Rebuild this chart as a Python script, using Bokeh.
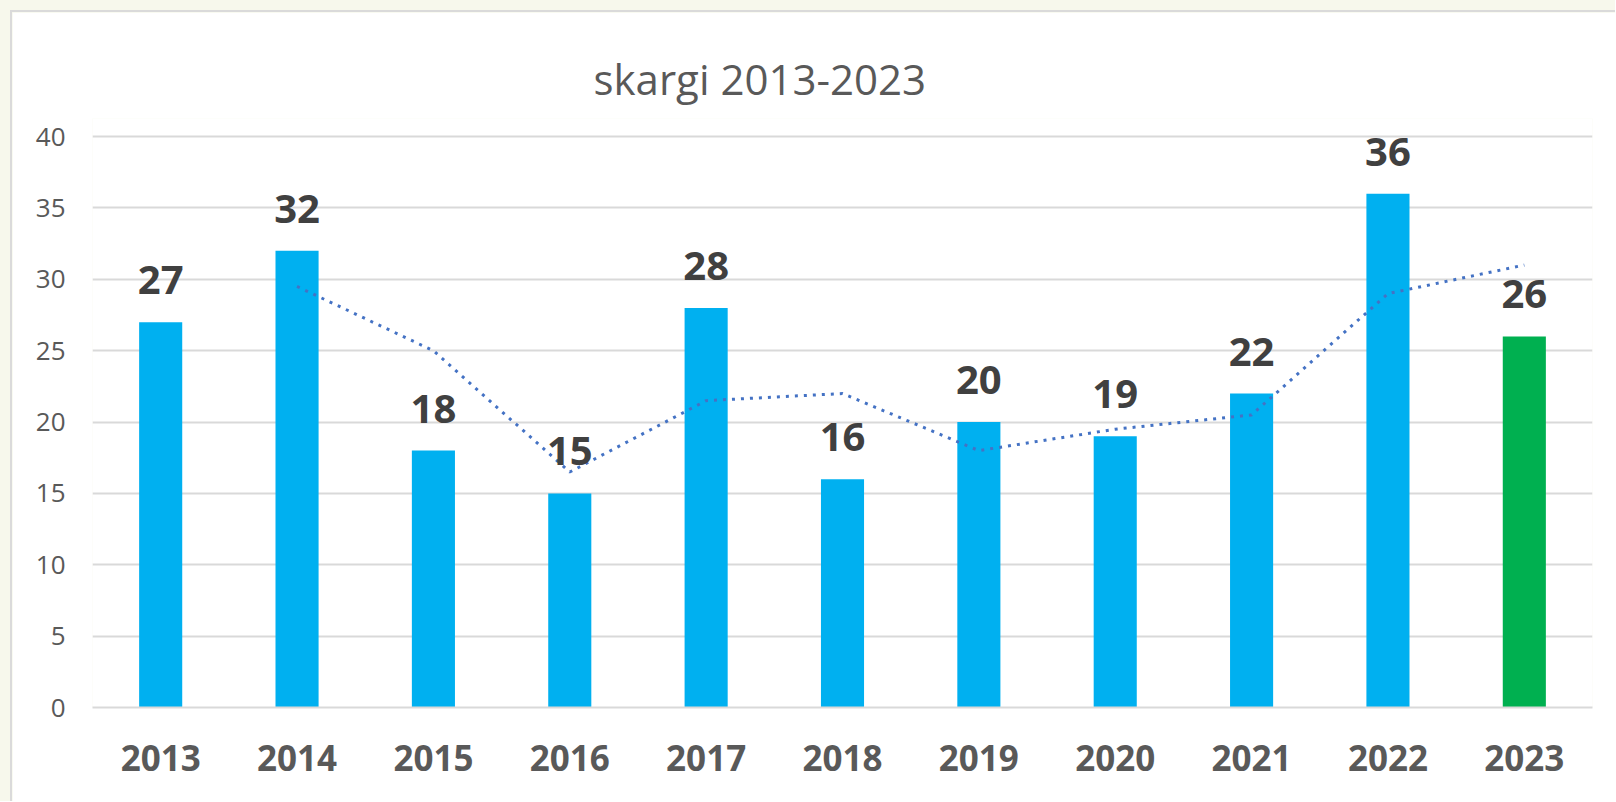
from bokeh.plotting import figure
from bokeh.layouts import column
from bokeh.models import FactorRange, Range1d, FixedTicker, ColumnDataSource
from bokeh.core.properties import value
from bokeh.embed import file_html
from bokeh.resources import INLINE

title_text = "skargi 2013-2023"
years = ["2013", "2014", "2015", "2016", "2017", "2018", "2019", "2020", "2021", "2022", "2023"]
complaints = [27, 32, 18, 15, 28, 16, 20, 19, 22, 36, 26]
highlight_year = "2023"
# 2-period moving average trend
trend_years = ["2014", "2015", "2016", "2017", "2018", "2019", "2020", "2021", "2022", "2023"]
trend_values = [29.5, 25, 16.5, 21.5, 22, 18, 19.5, 20.5, 29, 31]
y_ticks = [0, 5, 10, 15, 20, 25, 30, 35, 40]

BLUE = "#00B0F0"
GREEN = "#00B050"
colors = [GREEN if y == highlight_year else BLUE for y in years]

src = ColumnDataSource(dict(x=years, top=complaints, color=colors,
                            label=[str(v) for v in complaints]))

p = figure(width=1603, height=789, output_backend="svg", toolbar_location=None,
           x_range=FactorRange(factors=years, range_padding=0),
           y_range=Range1d(0, 41.27),
           frame_width=1498, frame_height=587,
           min_border_left=80, min_border_right=25, min_border_top=106, min_border_bottom=96)
p.margin = (10, 0, 0, 10)
p.styles = {"border-left": "2px solid #DADADA", "border-top": "2px solid #DADADA"}

p.title.text = title_text
p.title.text_font = "Open Sans"
p.title.text_font_size = "42px"
p.title.text_font_style = "normal"
p.title.text_color = "#595959"
p.title.align = "left"
p.title.offset = 501
p.title.standoff = 24

p.background_fill_color = "white"
p.border_fill_color = "white"
p.outline_line_color = None

p.vbar(x="x", top="top", width=0.316, source=src, fill_color="color", line_color=None)
p.line(trend_years, trend_values, line_color="#4472C4", line_width=3, line_dash="3 6")
p.text(x="x", y="top", text="label", source=src, y_offset=-42,
       text_align="center", text_baseline="alphabetic",
       text_font=value("Open Sans"), text_font_size="40px", text_font_style="bold",
       text_color="#404040")

p.xgrid.grid_line_color = None
p.ygrid.grid_line_color = "#D9D9D9"
p.ygrid.grid_line_width = 2
p.yaxis.ticker = FixedTicker(ticks=y_ticks)

p.yaxis.axis_line_color = None
p.yaxis.major_tick_line_color = None
p.yaxis.minor_tick_line_color = None
p.yaxis.major_tick_out = 0
p.yaxis.minor_tick_out = 0
p.yaxis.major_label_standoff = 27
p.yaxis.major_label_text_font = "Open Sans"
p.yaxis.major_label_text_font_size = "26px"
p.yaxis.major_label_text_color = "#595959"

p.xaxis.axis_line_color = "#D9D9D9"
p.xaxis.axis_line_width = 2
p.xaxis.major_tick_line_color = None
p.xaxis.minor_tick_line_color = None
p.xaxis.major_tick_out = 0
p.xaxis.minor_tick_out = 0
p.xaxis.major_label_standoff = 37
p.xaxis.major_label_text_font = "Open Sans"
p.xaxis.major_label_text_font_size = "35px"
p.xaxis.major_label_text_font_style = "bold"
p.xaxis.major_label_text_color = "#595959"

layout = column(p, styles={"background-color": "#F7F8EC"})

open("out.html", "w").write(file_html(layout, INLINE))
